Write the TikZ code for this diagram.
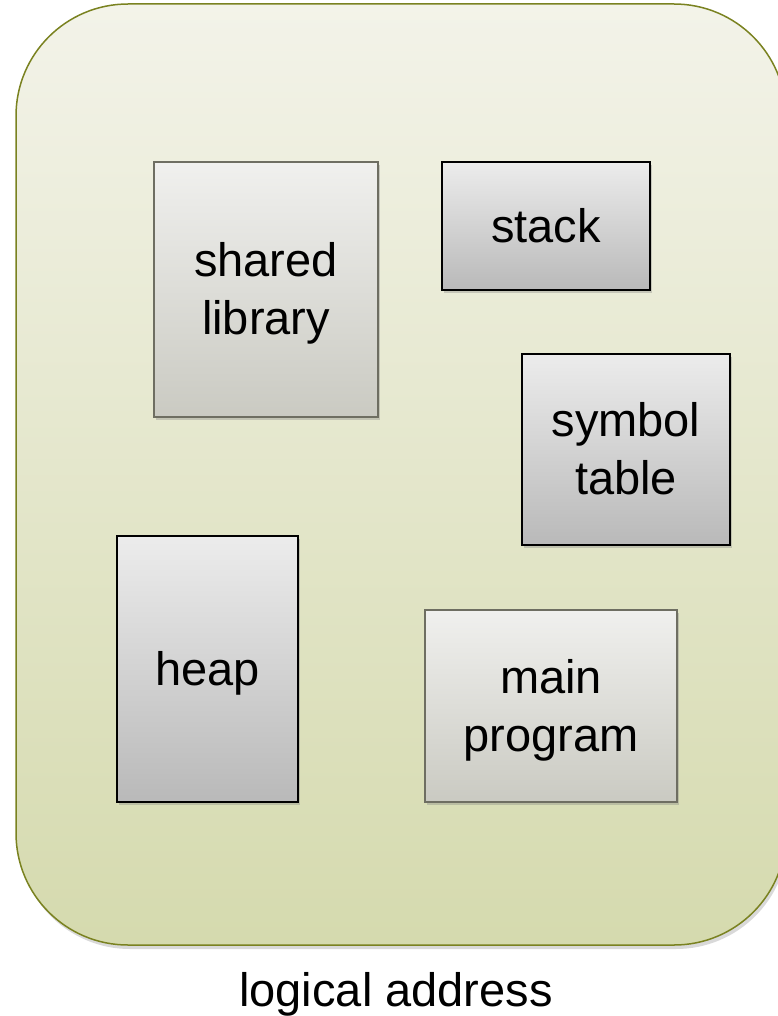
\documentclass[tikz,border=0pt]{standalone}
\usepackage{fontspec}
\setmainfont{Liberation Sans}
\usetikzlibrary{shadows}
\definecolor{outerline}{HTML}{7A8220}
\definecolor{outertop}{HTML}{F3F3E9}
\definecolor{outerbot}{HTML}{D5DAAE}
\definecolor{lighttop}{HTML}{F0F0EE}
\definecolor{lightbot}{HTML}{CACAC2}
\definecolor{lightline}{HTML}{6E6E62}
\definecolor{darktop}{HTML}{ECECEC}
\definecolor{darkbot}{HTML}{B9B9B9}
\tikzset{
  lbl/.style={font=\fontsize{47}{58}\selectfont, align=center, text=black},
  segbox/.style={lbl, rectangle, inner sep=0pt, text height=42.5pt, text depth=10pt,
    drop shadow={opacity=0.35, shadow xshift=1.5pt, shadow yshift=-3pt}},
  twolines/.style={text height=100.5pt},
  lightbox/.style={segbox, draw=lightline, line width=1.5pt, top color=lighttop, bottom color=lightbot},
  darkbox/.style={segbox, draw=black, line width=2pt, top color=darktop, bottom color=darkbot},
}
\begin{document}
\begin{tikzpicture}[x=1pt,y=-1pt]
\useasboundingbox (0,0) rectangle (778,1016);
% outer region
\fill[black, opacity=0.15, rounded corners=112pt] (18,9) rectangle (788,949);
\path[draw=outerline, line width=1.5pt, top color=outertop, bottom color=outerbot, rounded corners=112pt]
  (16,4) rectangle (786,945);
\node[lightbox, twolines, minimum width=224pt, minimum height=255pt] (shared) at (266,289.5) {shared\\library};
\node[darkbox, minimum width=208pt, minimum height=128pt] (stack) at (546,226) {stack};
\node[darkbox, twolines, minimum width=208pt, minimum height=191pt] (symbol) at (626,449.5) {symbol\\table};
\node[darkbox, minimum width=181pt, minimum height=266pt] (heap) at (207.5,669) {heap};
\node[lightbox, twolines, minimum width=252pt, minimum height=192pt] (main) at (551,706) {main\\program};
\node[lbl, anchor=base] (caption) at (396,1006) {logical address};
\end{tikzpicture}
\end{document}
